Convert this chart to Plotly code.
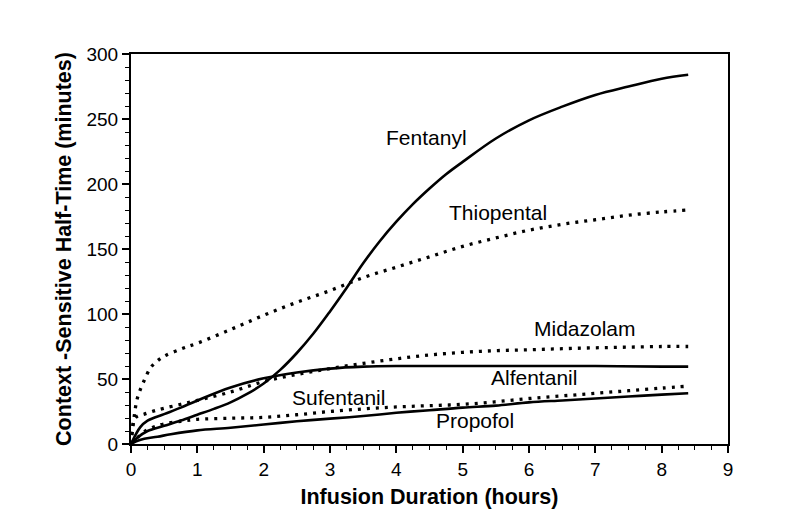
import plotly.graph_objects as go

# context-sensitive half-time (minutes) vs infusion duration (hours)
fentanyl_h = [0, 0.1, 0.25, 0.5, 0.75, 1, 1.25, 1.5, 1.75, 2, 2.25, 2.5, 2.75, 3, 3.25, 3.5,
              3.75, 4, 4.25, 4.5, 4.75, 5, 5.5, 6, 6.5, 7, 7.5, 8, 8.4]
fentanyl_min = [0, 5, 10, 14, 18, 22.5, 27, 32, 38.5, 46.5, 57, 70, 85, 102, 120, 139,
                156, 171, 184.5, 196.5, 207.5, 217, 235, 249, 259.5, 268.5, 275, 281, 284]

thiopental_h = [0, 0.05, 0.1, 0.2, 0.3, 0.4, 0.5, 0.75, 1, 1.5, 2, 2.5, 3, 3.5, 4,
                4.5, 5, 5.5, 6, 6.5, 7, 7.5, 8, 8.4]
thiopental_min = [0, 22, 36, 49, 59, 64, 67.5, 73, 77.5, 88, 99, 109, 118, 128, 136,
                  144, 152, 158.5, 164.5, 169, 172.5, 176, 178.5, 180]

midazolam_h = [0, 0.05, 0.1, 0.2, 0.35, 0.5, 0.75, 1, 1.5, 2, 2.5, 3, 3.5, 4, 4.5,
               5, 5.5, 6, 6.5, 7, 7.5, 8, 8.4]
midazolam_min = [0, 19, 21.5, 23, 25.5, 27.5, 30.5, 33.5, 40, 48, 53.5, 58, 62, 65.5, 68.5,
                 70.5, 71.8, 72.5, 73.3, 74, 74.5, 75, 75]

alfentanil_h = [0, 0.14, 0.25, 0.5, 0.75, 1, 1.5, 2, 2.5, 3, 3.5, 4, 5, 6, 7, 8, 8.4]
alfentanil_min = [0, 13, 18, 23, 28, 33.5, 43.5, 50.5, 55, 58, 59.5, 60, 60, 60, 60, 59.5, 59.5]

sufentanil_h = [0, 0.1, 0.2, 0.35, 0.5, 0.75, 1, 1.5, 2, 2.5, 3, 3.5, 4, 4.5, 5,
                5.5, 6, 6.5, 7, 7.5, 8, 8.4]
sufentanil_min = [0, 5, 9.5, 13.3, 15.5, 17.5, 19, 19.8, 20.5, 22.5, 25, 27, 28.5, 29.5, 30.5,
                  32.5, 35, 37, 39, 41, 43, 44.5]

propofol_h = [0, 0.1, 0.2, 0.4, 0.6, 1, 1.5, 2, 2.5, 3, 3.5, 4, 4.5, 5, 5.5, 6,
              6.5, 7, 7.5, 8, 8.4]
propofol_min = [0, 2.5, 4, 5.6, 7.5, 10.5, 12.5, 15, 17.5, 19.5, 21.5, 24, 26, 28, 29.5, 32,
                33.5, 35, 36.5, 38, 39]

series = [
    ("Fentanyl", fentanyl_h, fentanyl_min, "solid"),
    ("Thiopental", thiopental_h, thiopental_min, "dot"),
    ("Midazolam", midazolam_h, midazolam_min, "dot"),
    ("Alfentanil", alfentanil_h, alfentanil_min, "solid"),
    ("Sufentanil", sufentanil_h, sufentanil_min, "dot"),
    ("Propofol", propofol_h, propofol_min, "solid"),
]

# label name, x, y
labels = [
    ("Fentanyl", 4.46, 236),
    ("Thiopental", 5.53, 178),
    ("Midazolam", 6.84, 88.5),
    ("Alfentanil", 6.07, 51.3),
    ("Sufentanil", 3.13, 36),
    ("Propofol", 5.19, 17.9),
]

fig = go.Figure()
for name, xs, ys, style in series:
    if style == "solid":
        line = dict(color="black", width=2.6, shape="spline", smoothing=1)
    else:
        line = dict(color="black", width=3.3, dash="3px,6px", shape="spline", smoothing=1)
    fig.add_trace(go.Scatter(x=xs, y=ys, mode="lines", name=name, line=line,
                             showlegend=False))

for name, x, y in labels:
    fig.add_annotation(x=x, y=y, text=name, showarrow=False,
                       font=dict(family="Liberation Sans", size=21, color="black"),
                       xanchor="center", yanchor="middle")

axis_common = dict(
    showgrid=False, zeroline=False, showline=True, linecolor="black", linewidth=2,
    mirror=True, ticks="outside", ticklen=7, tickwidth=1.5, tickcolor="black",
    tickfont=dict(family="Liberation Sans", size=19, color="black"),
)

fig.update_xaxes(
    range=[0, 9], dtick=1, tick0=0,
    minor=dict(dtick=0.25, ticks="outside", ticklen=4, tickcolor="black", tickwidth=1),
    title=dict(text="<b>Infusion Duration (hours)</b>", standoff=10,
               font=dict(family="Liberation Sans", size=21.5, color="black")),
    **axis_common,
)
fig.update_yaxes(
    range=[0, 300], dtick=50, tick0=0,
    minor=dict(dtick=10, ticks="outside", ticklen=4, tickcolor="black", tickwidth=1),
    title=dict(text="<b>Context -Sensitive Half-Time (minutes)</b>", standoff=9,
               font=dict(family="Liberation Sans", size=21.5, color="black")),
    **axis_common,
)

# page body adds 8px, so margins are shifted to land the plot where the original sits
fig.update_layout(
    width=800, height=524,
    margin=dict(l=123, r=80, t=46, b=88),
    plot_bgcolor="white", paper_bgcolor="white",
)

fig.write_html("out.html")
